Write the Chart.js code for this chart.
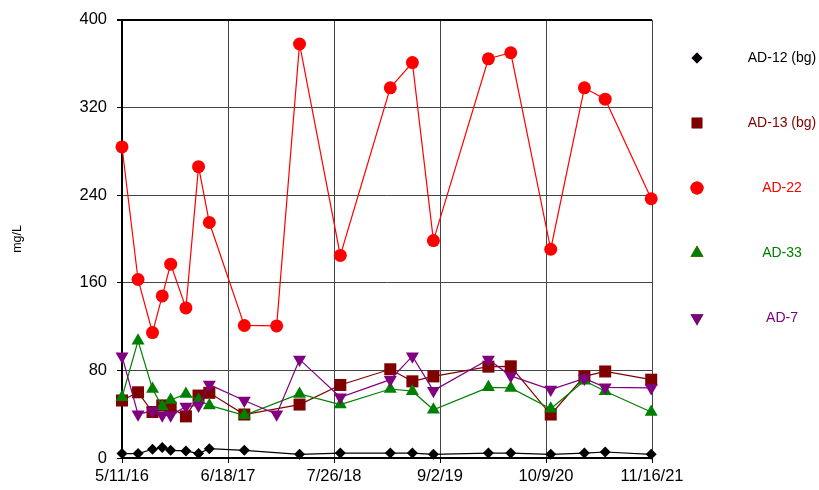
<!DOCTYPE html>
<html>
<head>
<meta charset="utf-8">
<script src="https://cdn.jsdelivr.net/npm/chart.js@4/dist/chart.umd.min.js"></script>
<style>
html, body { margin: 0; padding: 0; background: #fff; }
#wrap { width: 819px; height: 490px; position: relative; }
</style>
</head>
<body>
<div id="wrap"><canvas id="chart"></canvas></div>
<script>
// sampling dates (x axis) and tick labels
const startDate = "2016-05-11";
const sampleDates = ["2016-05-11", "2016-07-11", "2016-09-04", "2016-10-11", "2016-11-12", "2017-01-09",
	"2017-02-26", "2017-04-08", "2017-08-19", "2017-12-20", "2018-03-17", "2018-08-19", "2019-02-25",
	"2019-05-20", "2019-08-08", "2020-03-04", "2020-05-28", "2020-10-27", "2021-03-04", "2021-05-22", "2021-11-13"];
const xTickLabels = ["5/11/16", "6/18/17", "7/26/18", "9/2/19", "10/9/20", "11/16/21"];
const yTicks = [0, 80, 160, 240, 320, 400];

// series values, mg/L
const ad12 = [4, 4, 8, 9.5, 7, 6.5, 4, 8.5, 7, null, 3.4, 4.5, 4.5, 4.5, 3.4, 4.5, 4.5, 3.4, 4.5, 5.5, 3.4];
const ad13 = [52.5, 60, 42, 48, 46, 38, 57, 59.5, 39.7, null, 48.8, 66.7, 81, 70, 74.5, 83.4, 83.7, 39.7, 74.5, 79, 71.5];
const ad22 = [284, 163, 114.5, 148, 177, 137, 266, 215, 121, 120.6, 378, 185, 338, 361, 198.5, 364.5, 370, 190.6, 338, 327.6, 236.7];
const ad33 = [55.5, 107, 63, 47, 53, 58.5, 53, 48, 39, null, 58.5, 48.8, 63, 61, 44, 64.5, 64, 45, 70.6, 61, 42];
const ad7 = [93, 40, 43, 39, 39, 47, 48, 67, 52.5, 40, 90, 55.5, 71.5, 93, 61.5, 90, 75, 62.5, 72.7, 64.5, 64];

const dayMs = 86400000;
const t0 = new Date(startDate).getTime();
const toDays = (iso) => Math.round((new Date(iso).getTime() - t0) / dayMs);
const labelToIso = (lbl) => {
	const [m, d, y] = lbl.split("/").map(Number);
	return `20${String(y).padStart(2, "0")}-${String(m).padStart(2, "0")}-${String(d).padStart(2, "0")}`;
};
const xTickValues = xTickLabels.map((l) => toDays(labelToIso(l)));
const xDays = sampleDates.map(toDays);

const series = (vals) => vals.map((v, i) => ({ x: xDays[i], y: v }));

const fontFamily = "'Liberation Sans', Arial, sans-serif";

const datasets = [
	{ label: "AD-12 (bg)", data: series(ad12), color: "#000000", pointStyle: "rectRot", pointRadius: 5.5, rotation: 0, order: 4 },
	{ label: "AD-13 (bg)", data: series(ad13), color: "#800000", pointStyle: "rect", pointRadius: 8.5, rotation: 0, order: 3 },
	{ label: "AD-22", data: series(ad22), color: "#ff0000", pointStyle: "circle", pointRadius: 6.5, rotation: 0, order: 2 },
	{ label: "AD-33", data: series(ad33), color: "#008000", pointStyle: "triangle", pointRadius: 7.5, rotation: 0, order: 1 },
	{ label: "AD-7", data: series(ad7), color: "#800080", pointStyle: "triangle", pointRadius: 7.5, rotation: 180, order: 0 },
].map((d) => ({
	label: d.label,
	data: d.data,
	order: d.order,
	borderColor: d.color,
	backgroundColor: d.color,
	borderWidth: 1.2,
	pointStyle: d.pointStyle,
	pointRadius: d.pointRadius,
	pointRotation: d.rotation,
	pointBorderWidth: 0,
	pointBackgroundColor: d.color,
	pointHoverRadius: d.pointRadius,
	spanGaps: true,
	tension: 0,
	clip: false,
}));

// legend drawn on the right, one row per series
const sideLegend = {
	id: "sideLegend",
	afterDraw(chart) {
		const ctx = chart.ctx;
		ctx.save();
		chart.data.datasets.forEach((ds, i) => {
			const y = 58 + i * 65;
			Chart.helpers.drawPoint(ctx, {
				pointStyle: ds.pointStyle,
				radius: ds.pointStyle === "rect" ? 7.5 : ds.pointRadius,
				rotation: ds.pointRotation,
				borderWidth: 0,
			}, 697, y);
			ctx.fillStyle = ds.pointBackgroundColor;
			ctx.fill();
			ctx.font = `14px ${fontFamily}`;
			ctx.textAlign = "center";
			ctx.textBaseline = "middle";
			ctx.fillText(ds.label, 782, y);
		});
		ctx.restore();
	},
};

new Chart(document.getElementById("chart"), {
	type: "line",
	data: { datasets },
	options: {
		responsive: true,
		maintainAspectRatio: false,
		animation: false,
		layout: { padding: { top: 17, right: 167, bottom: 0, left: 0 } },
		scales: {
			x: {
				type: "linear",
				min: xTickValues[0],
				max: xTickValues[xTickValues.length - 1],
				afterBuildTicks: (scale) => {
					scale.ticks = xTickValues.map((v) => ({ value: v }));
				},
				afterFit: (scale) => {
					scale.height = 32;
				},
				ticks: {
					autoSkip: false,
					maxRotation: 0,
					padding: 4,
					color: "#000",
					font: { family: fontFamily, size: 16.5 },
					callback: (v) => xTickLabels[xTickValues.indexOf(v)] ?? "",
				},
				grid: {
					color: "#444",
					lineWidth: 1,
					tickLength: 5,
					tickColor: "#000",
				},
				border: { display: true, color: "#000", width: 2 },
			},
			y: {
				min: 0,
				max: 400,
				afterBuildTicks: (scale) => {
					scale.ticks = yTicks.map((v) => ({ value: v }));
				},
				afterFit: (scale) => {
					scale.width = 122;
				},
				ticks: {
					padding: 10,
					color: "#000",
					font: { family: fontFamily, size: 16.5 },
				},
				grid: {
					color: (c) => (c.tick && c.tick.value === 400 ? "#000" : "#444"),
					lineWidth: (c) => (c.tick && c.tick.value === 400 ? 2 : 1),
					tickLength: 5,
					tickColor: "#000",
				},
				border: { display: true, color: "#000", width: 2 },
				title: {
					display: true,
					text: "mg/L",
					color: "#000",
					font: { family: fontFamily, size: 12.5 },
					padding: { top: 10, bottom: 0 },
				},
			},
		},
		plugins: {
			legend: { display: false },
			tooltip: { enabled: false },
		},
	},
	plugins: [sideLegend],
});
</script>
</body>
</html>
